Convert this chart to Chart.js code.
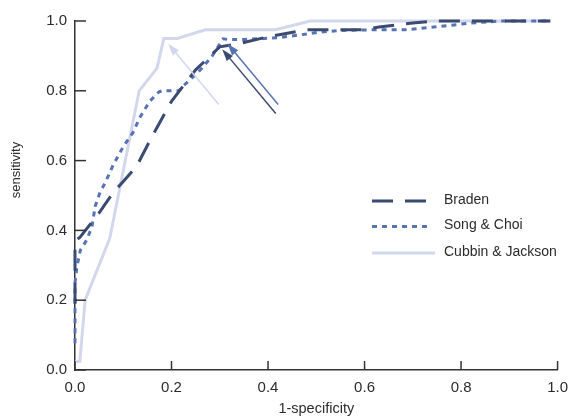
<!DOCTYPE html>
<html>
<head>
<meta charset="utf-8">
<script src="https://cdn.jsdelivr.net/npm/chart.js@4"></script>
<style>
body { margin: 0; background: #fff; }
#wrap { width: 577px; height: 418px; position: relative; }
</style>
</head>
<body>
<div id="wrap"><canvas id="c"></canvas></div>
<script>
const xTicks = [0, 0.2, 0.4, 0.6, 0.8, 1.0];
const yTicks = [0, 0.2, 0.4, 0.6, 0.8, 1.0];

const seriesNames = ["Braden", "Song & Choi", "Cubbin & Jackson"];
const colors = ["#3b4a70", "#5873b3", "#d2d7eb"];

const bradenX = [0, 0, 0.01, 0.05, 0.08, 0.10, 0.125, 0.13, 0.16, 0.18, 0.20, 0.25, 0.30, 0.34, 0.40, 0.48, 0.60, 0.63, 0.70, 0.75, 0.985];
const bradenY = [0.19, 0.37, 0.38, 0.45, 0.51, 0.54, 0.58, 0.59, 0.67, 0.72, 0.77, 0.86, 0.926, 0.935, 0.955, 0.975, 0.975, 0.983, 0.994, 1.0, 1.0];

const songX = [0, 0, 0.004, 0.011, 0.024, 0.035, 0.042, 0.052, 0.062, 0.08, 0.10, 0.12, 0.135, 0.155, 0.174, 0.181, 0.215, 0.229, 0.256, 0.283, 0.307, 0.317, 0.351, 0.392, 0.419, 0.46, 0.501, 0.548, 0.63, 0.685, 0.732, 0.78, 0.82, 0.882, 0.985];
const songY = [0.077, 0.25, 0.296, 0.343, 0.372, 0.41, 0.47, 0.51, 0.535, 0.59, 0.64, 0.68, 0.725, 0.77, 0.797, 0.80, 0.80, 0.82, 0.854, 0.897, 0.949, 0.947, 0.947, 0.95, 0.952, 0.959, 0.967, 0.973, 0.975, 0.975, 0.981, 0.988, 0.994, 1.0, 1.0];

const cubbinX = [0, 0.01, 0.021, 0.072, 0.133, 0.17, 0.184, 0.212, 0.27, 0.416, 0.487, 0.985];
const cubbinY = [0.024, 0.024, 0.2, 0.377, 0.80, 0.865, 0.95, 0.95, 0.975, 0.975, 1.0, 1.0];

// arrows, one per series (tail -> head)
const arrowTailX = [0.416, 0.421, 0.298];
const arrowTailY = [0.735, 0.761, 0.761];
const arrowHeadX = [0.305, 0.316, 0.193];
const arrowHeadY = [0.919, 0.935, 0.935];

const xs = [bradenX, songX, cubbinX];
const ys = [bradenY, songY, cubbinY];
const dashes = [[21, 12], [5, 5], []];

const font = "Arial, 'Liberation Sans', sans-serif";
const textColor = "#2b2b2b";

const extras = {
	id: "extras",
	afterDatasetsDraw(chart) {
		const { ctx, scales: { x, y } } = chart;
		ctx.save();
		arrowTailX.forEach((_, i) => {
			const x1 = x.getPixelForValue(arrowTailX[i]);
			const y1 = y.getPixelForValue(arrowTailY[i]);
			const x2 = x.getPixelForValue(arrowHeadX[i]);
			const y2 = y.getPixelForValue(arrowHeadY[i]);
			const a = Math.atan2(y2 - y1, x2 - x1);
			const len = 12, half = 4;
			ctx.strokeStyle = colors[i];
			ctx.fillStyle = colors[i];
			ctx.lineWidth = 1.5;
			ctx.setLineDash([]);
			ctx.beginPath();
			ctx.moveTo(x1, y1);
			ctx.lineTo(x2 - Math.cos(a) * len * 0.8, y2 - Math.sin(a) * len * 0.8);
			ctx.stroke();
			ctx.beginPath();
			ctx.moveTo(x2, y2);
			ctx.lineTo(x2 - Math.cos(a) * len + Math.sin(a) * half, y2 - Math.sin(a) * len - Math.cos(a) * half);
			ctx.lineTo(x2 - Math.cos(a) * len - Math.sin(a) * half, y2 - Math.sin(a) * len + Math.cos(a) * half);
			ctx.closePath();
			ctx.fill();
		});
		ctx.restore();
	},
	afterDraw(chart) {
		const { ctx, chartArea: area, scales: { x, y } } = chart;
		ctx.save();

		// inward tick marks
		ctx.strokeStyle = "#333";
		ctx.lineWidth = 1.5;
		ctx.setLineDash([]);
		xTicks.forEach(v => {
			const px = x.getPixelForValue(v);
			ctx.beginPath();
			ctx.moveTo(px, area.bottom);
			ctx.lineTo(px, area.bottom - 9);
			ctx.stroke();
		});
		yTicks.forEach(v => {
			const py = y.getPixelForValue(v);
			ctx.beginPath();
			ctx.moveTo(area.left, py);
			ctx.lineTo(area.left + 11, py);
			ctx.stroke();
		});

		// legend
		const lx = area.left + 297;
		const ly = [area.top + 180, area.top + 205.5, area.top + 232];
		const lens = [55, 60, 63];
		chart.data.datasets.forEach((ds, i) => {
			ctx.strokeStyle = ds.borderColor;
			ctx.lineWidth = ds.borderWidth;
			ctx.setLineDash(ds.borderDash || []);
			ctx.beginPath();
			ctx.moveTo(lx, ly[i]);
			ctx.lineTo(lx + lens[i], ly[i]);
			ctx.stroke();
			ctx.fillStyle = textColor;
			ctx.font = "14px " + font;
			ctx.textBaseline = "middle";
			ctx.textAlign = "left";
			ctx.fillText(ds.label, lx + 72, ly[i] - 1);
		});

		// y axis title
		ctx.translate(16, 170);
		ctx.rotate(-Math.PI / 2);
		ctx.font = "13px " + font;
		ctx.textAlign = "center";
		ctx.textBaseline = "middle";
		ctx.fillStyle = textColor;
		ctx.fillText("sensitivity", 0, 0);
		ctx.restore();
	}
};

new Chart(document.getElementById("c"), {
	type: "scatter",
	data: {
		datasets: seriesNames.map((name, i) => ({
			label: name,
			data: xs[i].map((v, j) => ({ x: v, y: ys[i][j] })),
			showLine: true,
			borderColor: colors[i],
			backgroundColor: colors[i],
			borderWidth: 3,
			borderDash: dashes[i],
			pointRadius: 0,
			tension: 0,
			clip: 6,
			order: i + 1
		}))
	},
	options: {
		responsive: true,
		maintainAspectRatio: false,
		animation: false,
		layout: { padding: { top: 21, right: 13, left: 0, bottom: 0 } },
		scales: {
			x: {
				type: "linear",
				min: 0,
				max: 1,
				afterFit: s => { s.height = 48; },
				afterBuildTicks: s => { s.ticks = xTicks.map(v => ({ value: v })); },
				grid: { display: false, drawTicks: false },
				border: { display: true, color: "#333", width: 1.5 },
				ticks: {
					padding: 9,
					color: textColor,
					font: { family: font, size: 15 },
					callback: v => v.toFixed(1)
				},
				title: {
					display: true,
					text: "1-specificity",
					color: textColor,
					font: { family: font, size: 14.5 },
					padding: 0
				}
			},
			y: {
				type: "linear",
				min: 0,
				max: 1,
				afterFit: s => { s.width = 75; },
				afterBuildTicks: s => { s.ticks = yTicks.map(v => ({ value: v })); },
				grid: { display: false, drawTicks: false },
				border: { display: true, color: "#333", width: 1.5 },
				ticks: {
					padding: 8,
					color: textColor,
					font: { family: font, size: 15 },
					callback: v => v.toFixed(1)
				}
			}
		},
		plugins: {
			legend: { display: false },
			tooltip: { enabled: false }
		}
	},
	plugins: [extras]
});
</script>
</body>
</html>
